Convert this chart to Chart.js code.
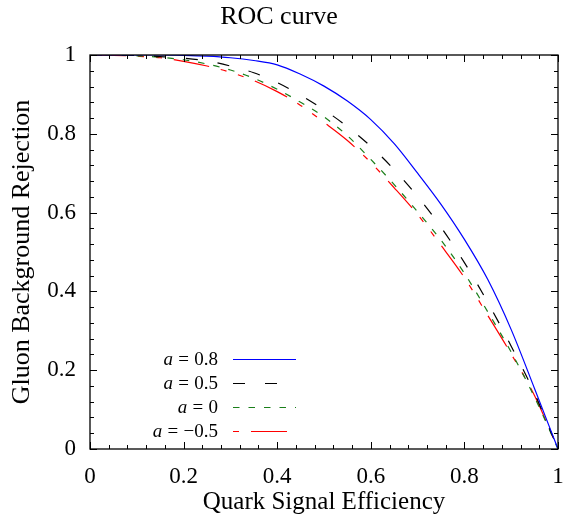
<!DOCTYPE html>
<html>
<head>
<meta charset="utf-8">
<script src="https://cdn.jsdelivr.net/npm/chart.js@4.4.1/dist/chart.umd.min.js"></script>
<style>
  html, body { margin: 0; padding: 0; background: #fff; }
  canvas { display: block; }
</style>
</head>
<body>
<canvas id="roc" width="563" height="516"></canvas>
<script>
(function () {
  // values
  const efficiency = [0, 0.05, 0.1, 0.15, 0.2, 0.25, 0.3, 0.35, 0.4, 0.45, 0.5,
    0.55, 0.6, 0.65, 0.7, 0.75, 0.8, 0.85, 0.9, 0.95, 1];
  const rejectionA08 = [1, 1, 1, 1, 0.999, 0.997, 0.993, 0.986, 0.975, 0.951, 0.921,
    0.883, 0.836, 0.775, 0.700, 0.621, 0.532, 0.430, 0.303, 0.153, 0];
  const rejectionA05 = [1, 1, 0.999, 0.996, 0.992, 0.985, 0.972, 0.955, 0.930, 0.898, 0.861,
    0.818, 0.768, 0.709, 0.641, 0.563, 0.473, 0.372, 0.261, 0.141, 0];
  const rejectionA0 = [1, 1, 0.998, 0.994, 0.988, 0.977, 0.962, 0.941, 0.913, 0.880, 0.843,
    0.795, 0.735, 0.671, 0.602, 0.530, 0.446, 0.348, 0.246, 0.131, 0];
  const rejectionAm05 = [1, 0.999, 0.997, 0.993, 0.984, 0.972, 0.956, 0.935, 0.907, 0.872, 0.829,
    0.783, 0.727, 0.663, 0.595, 0.517, 0.435, 0.339, 0.241, 0.135, 0];

  const seriesLabels = ['0.8', '0.5', '0', '\u22120.5'];
  const xTickValues = [0, 0.2, 0.4, 0.6, 0.8, 1];
  const xTickLabels = ['0', '0.2', '0.4', '0.6', '0.8', '1'];
  const yTickValues = [0, 0.2, 0.4, 0.6, 0.8, 1];
  const yTickLabels = ['0', '0.2', '0.4', '0.6', '0.8', '1'];
  const minorStep = 0.04;

  const SERIF = '"Liberation Serif", "DejaVu Serif", serif';

  function points(values) {
    return efficiency.map((x, i) => ({ x: x, y: values[i] }));
  }

  function line(label, values, color, dash) {
    return {
      label: label,
      data: points(values),
      borderColor: color,
      backgroundColor: color,
      borderWidth: 1.2,
      borderDash: dash,
      pointRadius: 0,
      fill: false,
      cubicInterpolationMode: 'monotone',
    };
  }

  // inward ticks on all four sides plus the frame
  const framePlugin = {
    id: 'frame',
    afterDatasetsDraw(chart) {
      const { ctx, chartArea } = chart;
      const xs = chart.scales.x;
      const ys = chart.scales.y;
      const { left, right, top, bottom } = chartArea;
      ctx.save();
      ctx.strokeStyle = '#000';
      ctx.lineWidth = 1;
      ctx.beginPath();
      for (let i = 0; i <= 25; i++) {
        const v = i * minorStep;
        const major = i % 5 === 0;
        const len = major ? 7 : 4;
        const px = Math.round(xs.getPixelForValue(v)) + 0.5;
        const py = Math.round(ys.getPixelForValue(v)) + 0.5;
        ctx.moveTo(px, bottom); ctx.lineTo(px, bottom - len);
        ctx.moveTo(px, top); ctx.lineTo(px, top + len);
        ctx.moveTo(left, py); ctx.lineTo(left + len, py);
        ctx.moveTo(right, py); ctx.lineTo(right - len, py);
      }
      ctx.stroke();
      ctx.lineWidth = 1.3;
      ctx.strokeRect(left, top, right - left, bottom - top);
      ctx.restore();
    },
  };

  // gnuplot style key: label right aligned, line sample to the right
  const keyPlugin = {
    id: 'key',
    afterDraw(chart) {
      const { ctx } = chart;
      const size = 19;
      const textRight = 218;
      const lineLeft = 233;
      const lineRight = 296;
      const rowTop = 359;
      const rowGap = 24;
      const dashOffsets = [0, 0, 0, 36 + 12 + 6 + 12 + 6 + 12 - 18];
      ctx.save();
      ctx.fillStyle = '#000';
      ctx.textBaseline = 'middle';
      chart.data.datasets.forEach((ds, i) => {
        const y = rowTop + i * rowGap;
        const gap = size * 0.28;
        ctx.font = `${size}px ${SERIF}`;
        const rest = seriesLabels[i];
        const restW = ctx.measureText(rest).width;
        const eqW = ctx.measureText('=').width;
        ctx.font = `italic ${size}px ${SERIF}`;
        const aW = ctx.measureText('a').width;
        let x = textRight - restW - gap - eqW - gap - aW;
        ctx.textAlign = 'left';
        ctx.fillText('a', x, y + 1);
        x += aW + gap;
        ctx.font = `${size}px ${SERIF}`;
        ctx.fillText('=', x, y + 1);
        x += eqW + gap;
        ctx.fillText(rest, x, y + 1);

        ctx.strokeStyle = ds.borderColor;
        ctx.lineWidth = ds.borderWidth;
        ctx.setLineDash(ds.borderDash || []);
        ctx.lineDashOffset = dashOffsets[i];
        ctx.beginPath();
        ctx.moveTo(lineLeft, y + 0.5);
        ctx.lineTo(lineRight, y + 0.5);
        ctx.stroke();
      });
      ctx.restore();
    },
  };

  new Chart(document.getElementById('roc'), {
    type: 'line',
    data: {
      datasets: [
        line('a = 0.8', rejectionA08, '#0000ff', []),
        line('a = 0.5', rejectionA05, '#000000', [12, 20]),
        line('a = 0', rejectionA0, '#1a7f1a', [6.5, 9]),
        line('a = -0.5', rejectionAm05, '#ff0000', [36, 12, 6, 12, 6, 12]),
      ],
    },
    options: {
      responsive: false,
      animation: false,
      devicePixelRatio: 1,
      layout: { padding: { left: 0, right: 5, top: 0, bottom: 0 } },
      plugins: {
        legend: { display: false },
        tooltip: { enabled: false },
        title: {
          display: true,
          text: 'ROC curve',
          color: '#000',
          font: { family: SERIF, size: 26, weight: 'normal', lineHeight: 1.2 },
          padding: { top: 2, bottom: 21.8 },
        },
      },
      scales: {
        x: {
          type: 'linear',
          min: 0,
          max: 1,
          grid: { display: false, drawTicks: false },
          border: { display: false },
          afterBuildTicks(scale) {
            scale.ticks = xTickValues.map((v) => ({ value: v }));
          },
          afterFit(scale) {
            scale.height = 67;
            scale.paddingLeft = 0;
            scale.paddingRight = 0;
          },
          ticks: {
            color: '#000',
            font: { family: SERIF, size: 23 },
            padding: 14,
            maxRotation: 0,
            autoSkip: false,
            callback: (v, i) => xTickLabels[i],
          },
          title: {
            display: true,
            text: 'Quark Signal Efficiency',
            color: '#000',
            font: { family: SERIF, size: 25, lineHeight: 1.1 },
            padding: { top: 0, bottom: 0 },
          },
        },
        y: {
          type: 'linear',
          min: 0,
          max: 1,
          grid: { display: false, drawTicks: false },
          border: { display: false },
          afterBuildTicks(scale) {
            scale.ticks = yTickValues.map((v) => ({ value: v }));
          },
          afterFit(scale) {
            scale.width = 90;
            scale.paddingTop = 0;
            scale.paddingBottom = 0;
          },
          ticks: {
            color: '#000',
            font: { family: SERIF, size: 23 },
            padding: 14,
            autoSkip: false,
            callback: (v, i) => yTickLabels[i],
          },
          title: {
            display: true,
            text: 'Gluon Background Rejection',
            color: '#000',
            font: { family: SERIF, size: 26, lineHeight: 1.1 },
            padding: { top: 8, bottom: 0 },
          },
        },
      },
    },
    plugins: [framePlugin, keyPlugin],
  });
})();
</script>
</body>
</html>
